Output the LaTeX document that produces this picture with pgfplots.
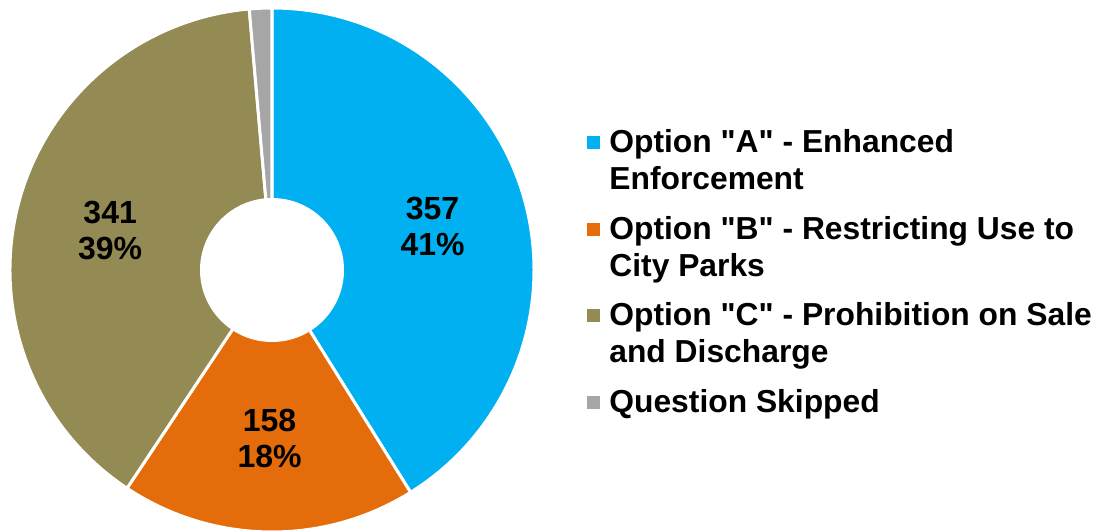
\documentclass[border=0pt]{standalone}
\usepackage{pgfplots}
\pgfplotsset{compat=1.18}
\usepackage{pgfplotstable}
\usepackage{fontspec}
\setmainfont{Liberation Sans}

\definecolor{pie0}{HTML}{00B0F0}
\definecolor{pie1}{HTML}{E46C0A}
\definecolor{pie2}{HTML}{948A54}
\definecolor{pie3}{HTML}{A6A6A6}

% survey responses, clockwise from 12 o'clock
\pgfplotstableread{
opt value
A 357
B 158
C 341
S 12
}\piedata

% legend entry whose baseline is its first line
\newcommand\leg[1]{\begin{tabular}[t]{@{}l@{}}#1\end{tabular}}
\newcommand\q{\textquotedbl}

\begin{document}
\begin{tikzpicture}
% cumulative angles
\def\total{0}
\pgfplotsforeachungrouped \i in {0,...,3}{%
  \pgfplotstablegetelem{\i}{value}\of\piedata
  \pgfmathsetmacro\total{\total+\pgfplotsretval}%
}
\def\curang{90}
\pgfplotsforeachungrouped \i in {0,...,3}{%
  \pgfplotstablegetelem{\i}{value}\of\piedata
  \let\curval\pgfplotsretval
  \pgfmathsetmacro\frac{\curval/\total}%
  \pgfmathsetmacro\endang{\curang-360*\frac}%
  \pgfmathsetmacro\midang{(\curang+\endang)/2}%
  \pgfmathtruncatemacro\pct{round(100*\frac)}%
  \expandafter\xdef\csname ps\i\endcsname{\curang}%
  \expandafter\xdef\csname pe\i\endcsname{\endang}%
  \expandafter\xdef\csname pm\i\endcsname{\midang}%
  \expandafter\xdef\csname pv\i\endcsname{\curval}%
  \expandafter\xdef\csname pp\i\endcsname{\pct}%
  \let\curang\endang
}
\begin{axis}[
    width=1105pt, height=531pt,
    scale only axis,
    xmin=0, xmax=1105, ymin=0, ymax=531,
    hide axis,
    clip=false,
    legend cell align=left,
    legend image code/.code={\fill[#1] (0pt,4.5pt) rectangle (12pt,16.5pt);},
    legend style={
        at={(0.5312,0.7608)}, anchor=north west,
        draw=none, fill=none, inner sep=0pt, outer sep=0pt,
        font=\fontsize{31.8}{37}\selectfont\bfseries,
        row sep=12.5pt, column sep=10pt,
        nodes={inner sep=0pt, outer sep=0pt, text depth=},
        cells={anchor=base west},
    },
]
\addlegendimage{pie0}
\addlegendentry{\leg{Option \q A\q{} - Enhanced\\Enforcement}}
\addlegendimage{pie1}
\addlegendentry{\leg{Option \q B\q{} - Restricting Use to\\City Parks}}
\addlegendimage{pie2}
\addlegendentry{\leg{Option \q C\q{} - Prohibition on Sale\\and Discharge}}
\addlegendimage{pie3}
\addlegendentry{\leg{Question Skipped}}

\pgfplotsinvokeforeach{0,...,3}{
  \fill[fill=pie#1, draw=white, line width=3pt]
    (axis cs:272,261) -- ++(\csname ps#1\endcsname:262pt)
    arc[start angle=\csname ps#1\endcsname, end angle=\csname pe#1\endcsname, radius=262pt]
    -- cycle;
}
\fill[white] (axis cs:272,261) circle[radius=72pt];
\pgfplotsinvokeforeach{0,1,2}{
  \path (axis cs:272,261) ++(\csname pm#1\endcsname:167pt)
    node[font=\fontsize{32}{36}\selectfont\bfseries, align=center, yshift=-2pt]
    {\csname pv#1\endcsname\\\csname pp#1\endcsname\%};
}
\end{axis}
\pgfresetboundingbox
\useasboundingbox (0,0) rectangle (1105pt,531pt);
\end{tikzpicture}
\end{document}
